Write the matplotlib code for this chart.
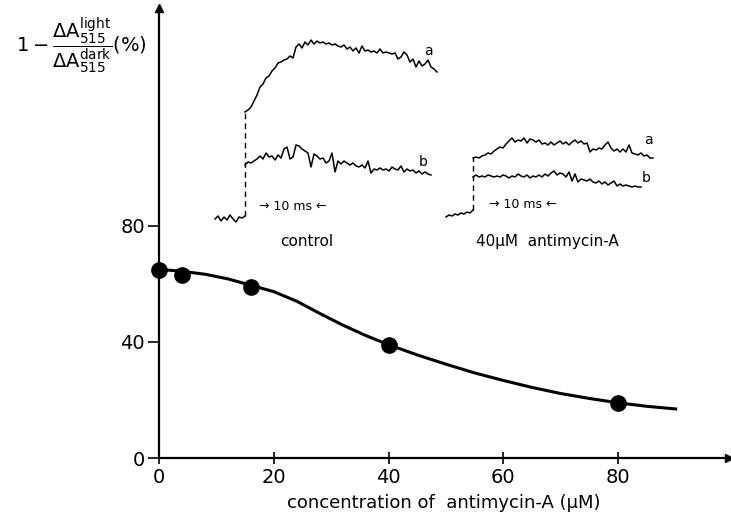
import numpy as np
import matplotlib
matplotlib.use("Agg")
import matplotlib.pyplot as plt

plt.rcParams["font.family"] = ["DejaVu Sans"]
plt.rcParams["mathtext.fontset"] = "dejavusans"

# main curve: antimycin-A concentration (uM) vs 1 - dA_light/dA_dark (%)
conc_points = [0, 4, 16, 40, 80]
inhib_points = [64.7, 63.2, 59.0, 39.0, 19.0]

fit_conc = [0, 4, 8, 12, 16, 20, 24, 28, 32, 36, 40, 45, 50, 55, 60, 65, 70, 75, 80, 85, 90]
fit_inhib = [65.0, 64.3, 63.3, 61.7, 59.5, 57.3, 54.0, 49.8, 45.8, 42.2, 39.0,
             35.5, 32.3, 29.3, 26.7, 24.3, 22.2, 20.5, 19.0, 17.8, 16.9]

x_ticks = [0, 20, 40, 60, 80]
y_ticks = [0, 40, 80]

# inset traces, sampled every 0.5 ms (signal in arbitrary units)
dt = 0.5
ctrl_base = [0, 3, -2, 2, -1, 4, 0, -3, 2, 1, 3]
ctrl_a = [107, 109, 112, 118, 124, 132, 135, 141, 143, 148, 151, 156, 157, 159, 160, 163,
          161, 172, 175, 171, 177, 174, 179, 175, 178, 176, 177, 175, 176, 174, 175, 173,
          172, 174, 170, 172, 168, 171, 166, 173, 168, 169, 167, 168, 166, 170, 166, 167,
          166, 165, 166, 160, 162, 167, 164, 157, 160, 152, 158, 153, 155, 159, 152, 150, 147]
ctrl_b = [54, 57, 56, 58, 60, 63, 60, 66, 62, 63, 59, 64, 61, 70, 72, 60, 62, 74, 73, 70,
          68, 66, 52, 65, 63, 60, 61, 56, 58, 66, 47, 58, 55, 58, 56, 54, 56, 53, 52, 54,
          51, 58, 46, 50, 49, 51, 49, 50, 48, 52, 50, 49, 53, 47, 50, 48, 49, 46, 48, 45,
          47, 45, 44]

anti_base = [-2, 0, -1, 1, 0, 2, 1, 3, 2, 5]
anti_a = [57, 58, 57, 59, 60, 62, 61, 64, 66, 68, 67, 71, 74, 77, 73, 75, 74, 77, 72, 76,
          75, 73, 75, 71, 72, 70, 73, 70, 72, 74, 71, 73, 70, 73, 75, 72, 74, 71, 72, 63,
          66, 65, 67, 66, 70, 73, 67, 64, 66, 63, 66, 63, 70, 62, 61, 60, 62, 59, 60, 57, 57]
anti_b = [38, 40, 38, 39, 38, 40, 39, 38, 39, 38, 40, 39, 37, 39, 38, 41, 39, 38, 40, 37,
          39, 38, 40, 38, 41, 39, 42, 44, 40, 42, 41, 38, 43, 34, 41, 33, 36, 35, 34, 36,
          33, 32, 34, 31, 33, 30, 32, 34, 29, 31, 29, 30, 29, 28, 29, 28, 28]

W, H = 731, 521
fig = plt.figure(figsize=(W / 100, H / 100), dpi=100)


def px_axes(x0, y0, x1, y1):
    # axes from pixel box (top-left origin)
    return fig.add_axes([x0 / W, 1 - y1 / H, (x1 - x0) / W, (y1 - y0) / H])


ax = px_axes(159, 8, 729, 458)
ax.plot(fit_conc, fit_inhib, color="black", lw=2.2, zorder=2)
ax.plot(conc_points, inhib_points, "o", color="black", ms=11, clip_on=False, zorder=3)
ax.set_xlim(0, 99.3)
ax.set_ylim(0, 155)
ax.set_xticks(x_ticks)
ax.set_yticks(y_ticks)
ax.tick_params(axis="both", labelsize=14, width=1.2, color="black")
ax.tick_params(axis="y", direction="out", length=8, pad=2)
ax.tick_params(axis="x", direction="inout", length=8)
for s in ["top", "right"]:
    ax.spines[s].set_visible(False)
for s in ["left", "bottom"]:
    ax.spines[s].set_linewidth(1.6)
ax.plot(1, 0, ">k", ms=6, transform=ax.get_yaxis_transform(), clip_on=False)
ax.plot(0, 1, "^k", ms=6, transform=ax.get_xaxis_transform(), clip_on=False)
ax.set_xlabel("concentration of  antimycin-A (\u00b5M)", fontsize=13, labelpad=5)

fig.text(0.112, 0.912,
         r"$1-\dfrac{\mathrm{\Delta A}_{515}^{\mathrm{light}}}{\mathrm{\Delta A}_{515}^{\mathrm{dark}}}$(%)",
         fontsize=14, ha="center", va="center")

ax.text(25.8, 74.5, "control", fontsize=11, ha="center", va="center")
ax.text(67.6, 74.5, "40\u00b5M  antimycin-A", fontsize=11, ha="center", va="center")

# control inset (1 ms = 6 px, 1 unit = 1 px)
axc = px_axes(210, 30, 450, 230)
axc.set_xlim(-35 / 6, 205 / 6)
axc.set_ylim(-11, 189)
axc.axis("off")
t_base = -5 + dt * np.arange(len(ctrl_base))
axc.plot(t_base, ctrl_base, color="black", lw=1.1)
axc.plot(dt * np.arange(len(ctrl_a)), ctrl_a, color="black", lw=1.1)
axc.plot(dt * np.arange(len(ctrl_b)), ctrl_b, color="black", lw=1.1)
axc.plot([0, 0], [ctrl_base[-1], ctrl_a[0]], color="black", lw=1.0, ls=(0, (4, 3)))
axc.text(30.5, 168, "a", fontsize=10, ha="center", va="center")
axc.text(29.7, 57, "b", fontsize=10, ha="center", va="center")
axc.text(8, 12, "\u2192 10 ms \u2190", fontsize=9, ha="center", va="center")

# antimycin inset
axa = px_axes(440, 120, 670, 230)
axa.set_xlim(-33 / 6, 197 / 6)
axa.set_ylim(-15, 95)
axa.axis("off")
t_base = -4.5 + dt * np.arange(len(anti_base))
axa.plot(t_base, anti_base, color="black", lw=1.1)
axa.plot(dt * np.arange(len(anti_a)), anti_a, color="black", lw=1.1)
axa.plot(dt * np.arange(len(anti_b)), anti_b, color="black", lw=1.1)
axa.plot([0, 0], [anti_base[-1], anti_a[0]], color="black", lw=1.0, ls=(0, (4, 3)))
axa.text(29.2, 75, "a", fontsize=10, ha="center", va="center")
axa.text(28.8, 37, "b", fontsize=10, ha="center", va="center")
axa.text(8.3, 10, "\u2192 10 ms \u2190", fontsize=9, ha="center", va="center")

fig.savefig("out.png", dpi=100)
